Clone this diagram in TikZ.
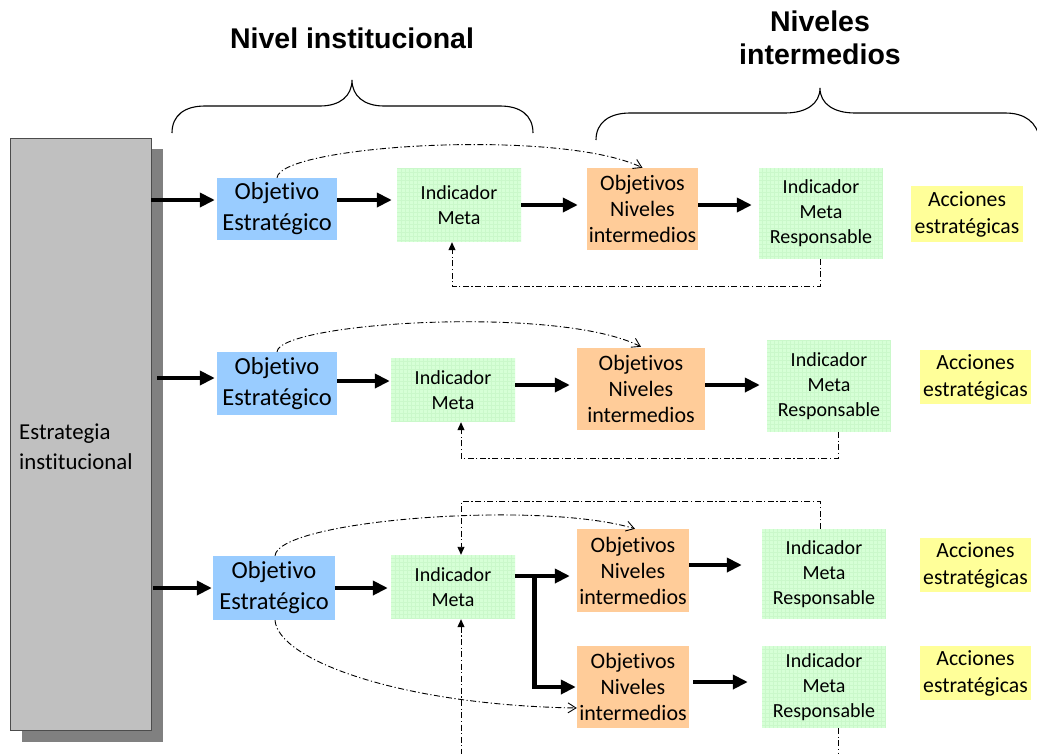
\documentclass[tikz,border=0pt]{standalone}
\usepackage{fontspec}
\setmainfont{Carlito}[Ligatures=NoCommon]
\newfontfamily\headfont{Liberation Sans}
\usetikzlibrary{arrows.meta}
\definecolor{objblue}{RGB}{153,204,255}
\definecolor{nivorange}{RGB}{255,204,153}
\definecolor{accyellow}{RGB}{255,255,153}
\definecolor{indgreen}{RGB}{214,255,214}
\definecolor{indgrid}{RGB}{202,248,202}
\definecolor{stratgray}{RGB}{192,192,192}
\definecolor{shadowgray}{RGB}{128,128,128}
\tikzset{
  box/.style={inner sep=0pt, align=center, anchor=center},
  objbox/.style={box, fill=objblue, font=\fontsize{24.5}{31}\selectfont},
  indbox/.style={box, fill=indgreen, font=\fontsize{20}{25}\selectfont,
    path picture={\draw[indgrid, line width=0.4pt, step=4pt]
      (path picture bounding box.south west) grid (path picture bounding box.north east);}},
  nivbox/.style={box, fill=nivorange, font=\fontsize{22}{26}\selectfont},
  accbox/.style={box, fill=accyellow, font=\fontsize{21.7}{27}\selectfont},
  flow/.style={line width=4.8pt, -{Triangle[length=15pt,width=14pt]}},
  fb/.style={line width=0.9pt, dash pattern=on 6pt off 2.5pt on 1.2pt off 2.5pt},
  fbtip/.style={fb, -{Triangle[length=8pt,width=7pt]}},
  fbopen/.style={fb, -{Straight Barb[length=8pt,width=10pt,line width=0.9pt]}},
  brace/.style={line width=1.1pt},
  title/.style={font=\headfont\bfseries\fontsize{28.5}{33}\selectfont, align=center}
}
\begin{document}
\begin{tikzpicture}[x=1pt,y=-1pt]
\useasboundingbox (0,0) rectangle (1037,753);
\clip (0,0) rectangle (1037,753);

% titles and braces
\node[title] (tinst) at (352,38) {Nivel institucional};
\node[title] (tniv) at (820,38) {Niveles\\intermedios};
\draw[brace] (172,133) .. controls (172,115) and (185,106) .. (205,106) -- (320,106)
  .. controls (340,106) and (352,96) .. (352,80)
  .. controls (352,96) and (364,106) .. (384,106) -- (500,106)
  .. controls (520,106) and (533,115) .. (533,133);
\draw[brace] (596,140) .. controls (596,122) and (610,113) .. (630,113) -- (785,113)
  .. controls (806,113) and (820,104) .. (820,88)
  .. controls (820,104) and (834,113) .. (855,113) -- (1005,113)
  .. controls (1025,113) and (1037,122) .. (1040,140);

% institutional strategy column with its shadow
\fill[shadowgray] (22,149) rectangle (163,742);
\node[box, draw=black!70, line width=0.6pt, fill=stratgray, minimum width=141pt, minimum height=592pt]
  (strat) at (80.5,434) {};
\node[anchor=west, align=left, font=\fontsize{22.8}{30}\selectfont] (strattext)
  at ([xshift=6pt,yshift=-13pt]strat.west) {Estrategia\\institucional};

% row 1
\node[objbox, minimum width=120pt, minimum height=62pt] (os1) at (277,209) {Objetivo\\Estratégico};
\node[indbox, minimum width=124pt, minimum height=74pt] (im1) at (459,205) {Indicador\\Meta};
\node[nivbox, minimum width=111pt, minimum height=82pt] (on1) at (642.5,209) {Objetivos\\Niveles\\intermedios};
\node[indbox, minimum width=124pt, minimum height=91pt] (imr1) at (821,213.5) {Indicador\\Meta\\Responsable};
\node[accbox, minimum width=112pt, minimum height=56pt] (ac1) at (967,214) {Acciones\\estratégicas};

% row 2
\node[objbox, minimum width=120pt, minimum height=63pt] (os2) at (277,383.5) {Objetivo\\Estratégico};
\node[indbox, minimum width=124pt, minimum height=64pt] (im2) at (453,390) {Indicador\\Meta};
\node[nivbox, minimum width=128pt, minimum height=82pt] (on2) at (641,389) {Objetivos\\Niveles\\intermedios};
\node[indbox, minimum width=124pt, minimum height=92pt] (imr2) at (829,386) {Indicador\\Meta\\Responsable};
\node[accbox, minimum width=111pt, minimum height=54pt] (ac2) at (975.5,377) {Acciones\\estratégicas};

% row 3
\node[objbox, minimum width=122pt, minimum height=64pt] (os3) at (274,588) {Objetivo\\Estratégico};
\node[indbox, minimum width=124pt, minimum height=64pt] (im3) at (453,587) {Indicador\\Meta};
\node[nivbox, minimum width=112pt, minimum height=83pt] (on3a) at (633,570.5) {Objetivos\\Niveles\\intermedios};
\node[nivbox, minimum width=112pt, minimum height=82pt] (on3b) at (633,687) {Objetivos\\Niveles\\intermedios};
\node[indbox, minimum width=124pt, minimum height=90pt] (imr3a) at (824,574) {Indicador\\Meta\\Responsable};
\node[indbox, minimum width=124pt, minimum height=82pt] (imr3b) at (824,687) {Indicador\\Meta\\Responsable};
\node[accbox, minimum width=111pt, minimum height=54pt] (ac3a) at (975.5,565) {Acciones\\estratégicas};
\node[accbox, minimum width=111pt, minimum height=54pt] (ac3b) at (975.5,673) {Acciones\\estratégicas};

% main flow arrows
\coordinate (a1) at ([yshift=9pt]os1.west);
\draw[flow, shorten >=2pt] (strat.east |- a1) -- (a1);
\draw[flow, shorten >=5pt] (os1.east |- a1) -- (im1.west |- a1);
\draw[flow, shorten >=9pt] (im1.east) -- (on1.west |- im1.east);
\draw[flow, shorten >=7pt] (on1.east |- im1.east) -- (imr1.west |- im1.east);

\coordinate (a2) at ([yshift=5.5pt]os2.west);
\draw[flow, shorten >=2pt] ([xshift=6pt]strat.east |- a2) -- (a2);
\coordinate (b2) at ([yshift=2.5pt]os2.east);
\draw[flow, shorten >=1pt] (b2) -- (im2.west |- b2);
\coordinate (c2) at ([yshift=5pt]im2.east);
\draw[flow, shorten >=7pt] (c2) -- (on2.west |- c2);
\draw[flow, shorten >=7pt] (on2.east |- c2) -- (imr2.west |- c2);

\draw[flow, shorten >=1pt] ([xshift=2pt]strat.east |- os3.west) -- (os3.west);
\draw[flow, shorten >=3pt] (os3.east) -- (im3.west |- os3.east);
\coordinate (c3) at ([yshift=11pt]im3.east);
\draw[flow, shorten >=7pt] (c3) -- (on3a.west |- c3);
\coordinate (split) at ([xshift=19pt]c3);
\draw[flow, shorten >=1pt] (split) |- (on3b.west);
\coordinate (d3) at ([yshift=5.5pt]on3a.east);
\draw[flow, shorten >=20pt] (d3) -- (imr3a.west |- d3);
\coordinate (e3) at ([xshift=4pt,yshift=5pt]on3b.east);
\draw[flow, shorten >=14pt] (e3) -- (imr3b.west |- e3);

% objective to intermediate-level links
\draw[fbopen] (os1.north) .. controls (280,145) and (560,128) .. (on1.north);
\draw[fbopen] (os2.north) .. controls (280,322) and (560,305) .. ([yshift=1pt]on2.north);
\draw[fbopen] ([xshift=1pt]os3.north) .. controls (278,520) and (540,500) .. ([xshift=2pt]on3a.north);
\draw[fbopen] ([xshift=1pt]os3.south) .. controls (278,660) and (400,705) .. ([yshift=-21pt]on3b.west);

% feedback loops to the indicators
\draw[fbtip] ([xshift=-1pt]imr1.south) -- ++(0,27) -| ([xshift=-7pt]im1.south);
\draw[fbtip] ([xshift=9pt]imr2.south) -- ++(0,26) -| ([xshift=8pt]im2.south);
\draw[fbtip] ([xshift=-4pt]imr3a.north) -- ++(0,-27) -| ([xshift=8pt]im3.north);
\draw[fb, {Triangle[length=8pt,width=7pt]}-] ([xshift=8pt]im3.south) -- ++(0,145);
\draw[fb] ([xshift=14pt]imr3b.south) -- ++(0,30);
\end{tikzpicture}
\end{document}
